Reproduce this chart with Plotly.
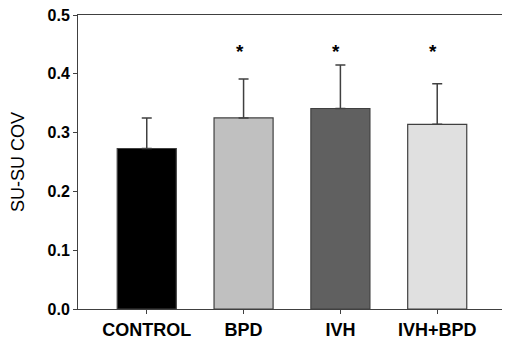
import plotly.graph_objects as go

categories = ["CONTROL", "BPD", "IVH", "IVH+BPD"]
means = [0.273, 0.325, 0.341, 0.314]
sd_upper = [0.052, 0.066, 0.074, 0.069]
significant = [False, True, True, True]
star_level = 0.438
colors = ["#000000", "#c0c0c0", "#606060", "#e0e0e0"]

FONT = "Arial, Liberation Sans, sans-serif"

fig = go.Figure()
fig.add_trace(go.Bar(
    x=categories, y=means, width=0.61,
    marker=dict(color=colors, line=dict(color="#404040", width=1.2)),
    error_y=dict(type="data", symmetric=False, array=sd_upper,
                 arrayminus=[0] * len(means), color="#404040",
                 thickness=1.5, width=5),
    showlegend=False,
))

for c, s in zip(categories, significant):
    if s:
        fig.add_annotation(x=c, y=star_level, text="<b>*</b>", showarrow=False,
                           xshift=-4, font=dict(size=19, color="#000000"))

# the page body has an 8px margin, so the figure is sized/offset to compensate
fig.update_layout(
    width=502, height=341,
    margin=dict(l=70, r=5, t=7, b=40, autoexpand=False),
    paper_bgcolor="white", plot_bgcolor="white",
    font=dict(family=FONT, color="#000000"),
)
fig.update_xaxes(
    type="category", range=[-0.71, 3.70], automargin=False,
    showline=True, linecolor="#404040", linewidth=1, mirror=True,
    ticks="outside", ticklen=4, tickcolor="#404040",
    tickfont=dict(size=18, family=FONT, weight="bold"),
    showgrid=False, ticklabeloverflow="allow",
)
fig.update_yaxes(
    range=[0, 0.5], tickvals=[0, 0.1, 0.2, 0.3, 0.4, 0.5],
    ticktext=["0.0", "0.1", "0.2", "0.3", "0.4", "0.5"], automargin=False,
    showline=True, linecolor="#404040", linewidth=1, mirror=True,
    ticks="outside", ticklen=4, tickcolor="#404040",
    tickfont=dict(size=16, weight="bold"), ticklabeloverflow="allow",
    showgrid=False, zeroline=False,
    title=dict(text="SU-SU COV", font=dict(size=18, color="#000000"), standoff=19),
)

fig.write_html("out.html")
